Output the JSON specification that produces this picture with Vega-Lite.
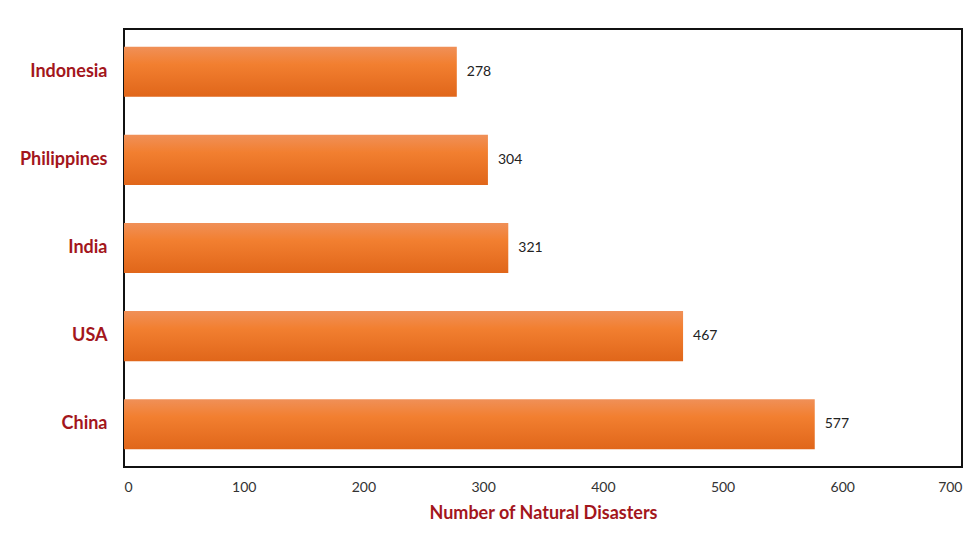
{
  "$schema": "https://vega.github.io/schema/vega-lite/v6.json",
  "autosize": {"type": "none"},
  "padding": {"left": 124, "top": 29, "right": 18, "bottom": 72},
  "width": 838,
  "height": 438,
  "background": "white",
  "config": {
    "font": "Lato",
    "view": {"stroke": "#111111", "strokeWidth": 2}
  },
  "data": {
    "values": [
      {"country": "Indonesia", "disasters": 278},
      {"country": "Philippines", "disasters": 304},
      {"country": "India", "disasters": 321},
      {"country": "USA", "disasters": 467},
      {"country": "China", "disasters": 577}
    ]
  },
  "encoding": {
    "y": {
      "field": "country",
      "type": "nominal",
      "sort": null,
      "scale": {"paddingInner": 0.43, "paddingOuter": 0.2},
      "axis": {
        "title": null,
        "domain": false,
        "ticks": false,
        "labelPadding": 17,
        "labelFont": "Lato",
        "labelFontSize": 18,
        "labelFontWeight": "bold",
        "labelColor": "#a3161c"
      }
    },
    "x": {
      "field": "disasters",
      "type": "quantitative",
      "scale": {"domain": [0, 700], "nice": false},
      "axis": {
        "values": [0, 100, 200, 300, 400, 500, 600, 700],
        "title": "Number of Natural Disasters",
        "titleFont": "Lato",
        "titleFontSize": 18,
        "titleFontWeight": "bold",
        "titleColor": "#a3161c",
        "titlePadding": 10,
        "grid": false,
        "domain": false,
        "ticks": false,
        "labelPadding": 13,
        "labelFontSize": 14,
        "labelColor": "#333333",
        "labelFont": "Lato"
      }
    }
  },
  "layer": [
    {
      "mark": {
        "type": "bar",
        "color": {
          "gradient": "linear",
          "x1": 0, "y1": 0, "x2": 0, "y2": 1,
          "stops": [
            {"offset": 0, "color": "#f09058"},
            {"offset": 0.35, "color": "#f27f30"},
            {"offset": 1, "color": "#e0661a"}
          ]
        }
      }
    },
    {
      "mark": {"type": "text", "align": "left", "dx": 10, "fontSize": 14, "color": "#222222", "font": "Lato"},
      "encoding": {"text": {"field": "disasters", "type": "quantitative"}}
    }
  ]
}
